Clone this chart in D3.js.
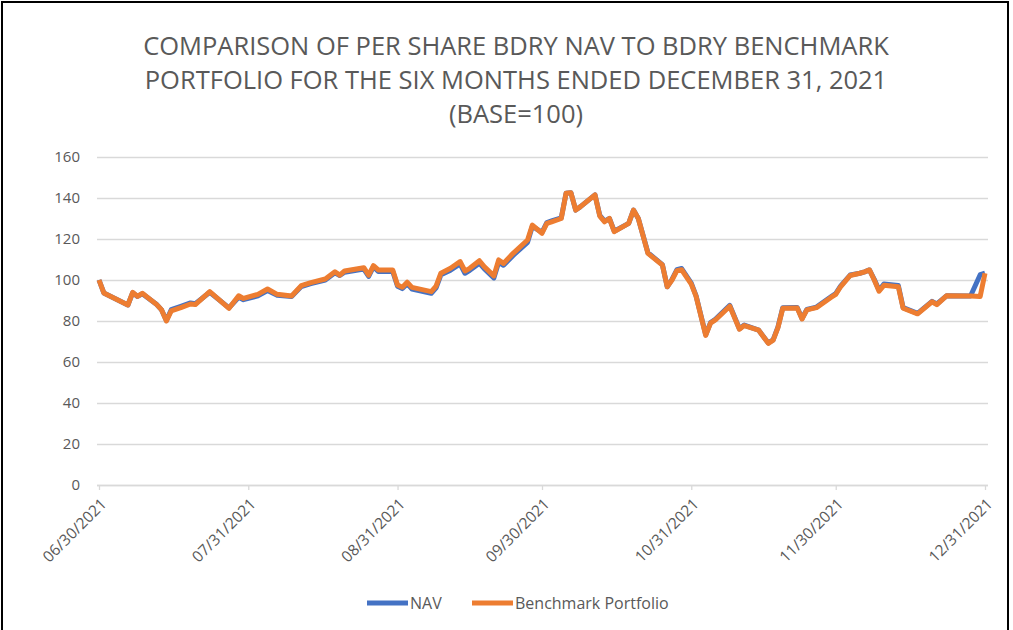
<!DOCTYPE html>
<html>
<head>
<meta charset="utf-8">
<script src="https://cdn.jsdelivr.net/npm/d3@7"></script>
<style>
  body { margin: 0; background: #fff; }
  text { font-family: "Open Sans", sans-serif; fill: #595959; }
</style>
</head>
<body>
<div id="chart"></div>
<script>
// data
var dates = ["2021-06-30","2021-07-01","2021-07-06","2021-07-07","2021-07-08","2021-07-09","2021-07-12","2021-07-13",
  "2021-07-14","2021-07-15","2021-07-17","2021-07-19","2021-07-20","2021-07-23","2021-07-27","2021-07-29","2021-07-30",
  "2021-08-02","2021-08-04","2021-08-06","2021-08-09","2021-08-11","2021-08-13","2021-08-16","2021-08-18","2021-08-19",
  "2021-08-20","2021-08-24","2021-08-25","2021-08-26","2021-08-27","2021-08-30","2021-08-31","2021-09-01","2021-09-02",
  "2021-09-03","2021-09-07","2021-09-08","2021-09-09","2021-09-11","2021-09-13","2021-09-14","2021-09-15","2021-09-17",
  "2021-09-18","2021-09-20","2021-09-21","2021-09-22","2021-09-24","2021-09-27","2021-09-28","2021-09-30","2021-10-01",
  "2021-10-02","2021-10-04","2021-10-05","2021-10-06","2021-10-07","2021-10-08","2021-10-11","2021-10-12","2021-10-13",
  "2021-10-14","2021-10-15","2021-10-18","2021-10-19","2021-10-20","2021-10-22","2021-10-25","2021-10-26","2021-10-27",
  "2021-10-28","2021-10-29","2021-10-31","2021-11-01","2021-11-03","2021-11-04","2021-11-05","2021-11-08","2021-11-10",
  "2021-11-11","2021-11-14","2021-11-16","2021-11-17","2021-11-18","2021-11-19","2021-11-22","2021-11-23","2021-11-24",
  "2021-11-26","2021-11-29","2021-11-30","2021-12-01","2021-12-03","2021-12-05","2021-12-06","2021-12-07","2021-12-08",
  "2021-12-09","2021-12-10","2021-12-13","2021-12-14","2021-12-17","2021-12-20","2021-12-21","2021-12-23","2021-12-28",
  "2021-12-30","2021-12-31"];

var bench = [100,93.7,87.8,94,92,93.5,88,85.4,
  80,84.9,86.5,88.3,88,94.3,86.2,92.3,91,
  93,95.6,93,92.2,97.2,98.7,100.5,104,102.4,
  104.4,106,102.4,107,104.9,104.9,97.6,96.5,98.9,
  96.4,94.3,97,103.3,105.7,109,104.4,105.7,109.4,
  106.5,102,109.8,108.1,113,119.5,126.8,122.8,127.6,
  128.4,130,142.3,142.6,134.1,135.8,141.5,131.2,128.4,
  130,123.6,127.6,134.1,130,113,107.3,96.7,100,
  104.5,105,98,92,73,79,80.5,87.2,76,
  77.8,75.5,69.1,70.7,76.8,86.2,86.3,81,85.4,
  86.5,91.5,93,96.7,102.2,103.3,104,104.9,100,
  94.5,97.4,96.7,86.2,83.5,89.4,88,92.3,92.2,
  92,103.3];

var nav = [100,93.7,87.8,93.8,92,93.3,88,85.4,
  80.2,85.5,87.2,88.8,88.4,94,86.4,91.6,90.4,
  92.3,94.9,92.6,92,96.8,98.2,100,103.5,102.2,
  103.8,105.3,101.8,106.5,104.2,104.2,97,95.8,98.2,
  95.6,93.5,96.2,102.5,104.8,107.8,103.3,104.7,108.2,
  105.5,101,108.6,107.2,112,118.4,126.2,123.2,128,
  128.8,130.3,142.3,142.6,134.1,135.8,141.5,131.5,128.7,
  130,123.8,127.6,134.1,130,113.3,107.5,96.7,100.3,
  105,105.6,98.5,92.3,73.3,79.2,80.8,87.6,76.2,
  78,75.5,69.3,70.8,77,86.5,86.6,81.2,85.6,
  86.8,91.8,93.4,97,102.4,103.3,104,104.9,100.3,
  95,98,97.3,86.5,83.7,89.6,88.3,92.3,92.2,
  102.6,103.3];

var yTicks = [0,20,40,60,80,100,120,140,160];
var xTicks = ["2021-06-30","2021-07-31","2021-08-31","2021-09-30","2021-10-31","2021-11-30","2021-12-31"];
var titleLines = ["COMPARISON OF PER SHARE BDRY NAV TO BDRY BENCHMARK",
  "PORTFOLIO FOR THE SIX MONTHS ENDED DECEMBER 31, 2021",
  "(BASE=100)"];
var seriesNames = ["NAV", "Benchmark Portfolio"];
var colors = ["#4472C4", "#ED7D31"];

var width = 1013, height = 630;
var parse = d3.timeParse("%Y-%m-%d");
var fmt = d3.timeFormat("%m/%d/%Y");

var svg = d3.select("#chart").append("svg")
  .attr("width", width)
  .attr("height", height);

// frame
svg.append("rect")
  .attr("x", 2).attr("y", 2)
  .attr("width", 1006).attr("height", 700)
  .attr("fill", "none")
  .attr("stroke", "#000")
  .attr("stroke-width", 2);

var x = d3.scaleTime()
  .domain([parse(dates[0]), parse(dates[dates.length - 1])])
  .range([99, 985]);
var y = d3.scaleLinear().domain([0, 160]).range([485, 157]);

// title
svg.selectAll(".title").data(titleLines).enter().append("text")
  .attr("class", "title")
  .attr("x", 516)
  .attr("y", function(d, i) { return 55 + i * 34; })
  .attr("text-anchor", "middle")
  .style("font-size", "25.5px")
  .text(function(d) { return d; });

// gridlines + y labels
var yAxis = d3.axisLeft(y).tickValues(yTicks).tickSize(-(988 - 97)).tickPadding(17);
var gy = svg.append("g").attr("transform", "translate(97,0)").call(yAxis);
gy.select(".domain").remove();
gy.selectAll(".tick line").attr("stroke", "#d9d9d9").attr("stroke-width", 1.3);
gy.selectAll(".tick text").style("font-size", "15px").attr("fill", "#595959");

// x axis
var xAxis = d3.axisBottom(x)
  .tickValues(xTicks.map(parse))
  .tickFormat(fmt)
  .tickSizeInner(5).tickSizeOuter(0);
var gx = svg.append("g").attr("transform", "translate(0,485)").call(xAxis);
gx.select(".domain").attr("stroke", "#d9d9d9").attr("stroke-width", 1.3)
  .attr("d", "M97,0.5H988");
gx.selectAll(".tick line").attr("stroke", "#d9d9d9").attr("stroke-width", 1.3);
gx.selectAll(".tick text")
  .style("font-size", "15.5px")
  .attr("fill", "#595959")
  .attr("text-anchor", "end")
  .attr("dy", null)
  .attr("y", 0)
  .attr("transform", "translate(8,20) rotate(-45)");

// lines
var line = d3.line()
  .x(function(d) { return x(d.date); })
  .y(function(d) { return y(d.v); });

[nav, bench].forEach(function(vals, k) {
  var pts = dates.map(function(d, i) { return { date: parse(d), v: vals[i] }; });
  svg.append("path")
    .datum(pts)
    .attr("d", line)
    .attr("fill", "none")
    .attr("stroke", colors[k])
    .attr("stroke-width", 5)
    .attr("stroke-linejoin", "round");
});

// legend
var legendX = [367, 472];
seriesNames.forEach(function(name, k) {
  svg.append("line")
    .attr("x1", legendX[k]).attr("x2", legendX[k] + 41)
    .attr("y1", 603).attr("y2", 603)
    .attr("stroke", colors[k])
    .attr("stroke-width", 5);
  svg.append("text")
    .attr("x", legendX[k] + 43)
    .attr("y", 609)
    .style("font-size", "16px")
    .text(name);
});
</script>
</body>
</html>
